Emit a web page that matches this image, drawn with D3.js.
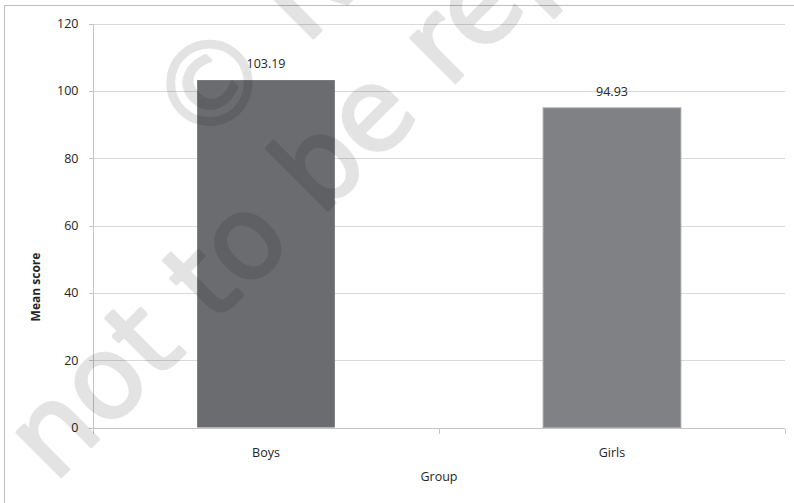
<!doctype html>
<html>
<head>
<meta charset="utf-8">
<script src="https://cdnjs.cloudflare.com/ajax/libs/d3/7.8.5/d3.min.js"></script>
<style>
body { margin: 0; background: #fff; }
text { font-family: "Open Sans", "DejaVu Sans", sans-serif; fill: #262626; }
.grid line { stroke: #d9d9d9; stroke-width: 1px; }
.axis path, .axis line { stroke: #c4c4c4; shape-rendering: crispEdges; }
.axis text { font-size: 12.5px; fill: #262626; }
</style>
</head>
<body>
<svg id="chart" width="794" height="503"></svg>
<script>
var groups = ["Boys", "Girls"];
var meanScores = [103.19, 94.93];
var barColors = ["#6b6c70", "#808185"];
var yTicks = [0, 20, 40, 60, 80, 100, 120];
var watermarkLines = ["\u00a9 NCERT", "not to be republished"];

var svg = d3.select("#chart");
var margin = {left: 93, right: 9, top: 23.5, bottom: 75.5};
var W = 794, H = 503;

// outer frame
svg.append("rect")
  .attr("x", 4.5).attr("y", 5.5)
  .attr("width", 820).attr("height", 620)
  .attr("fill", "none")
  .attr("stroke", "#bdbdbd");

var x = d3.scaleBand()
  .domain(groups)
  .range([margin.left, W - margin.right])
  .padding(0);

var y = d3.scaleLinear()
  .domain([0, 120])
  .range([H - margin.bottom, margin.top]);

// gridlines
svg.append("g")
  .attr("class", "grid")
  .selectAll("line")
  .data(yTicks.slice(1))
  .enter()
  .append("line")
  .attr("x1", margin.left)
  .attr("x2", W - margin.right)
  .attr("y1", d => Math.round(y(d)) + 0.5)
  .attr("y2", d => Math.round(y(d)) + 0.5);

// y axis
var yAxis = svg.append("g")
  .attr("class", "axis")
  .attr("transform", "translate(" + (margin.left + 0.5) + ",0)")
  .call(d3.axisLeft(y).tickValues(yTicks).tickSize(5).tickPadding(10));
yAxis.select(".domain").attr("d", "M0," + y(0) + "V" + y(120));

// bars
var barW = x.bandwidth() * 0.398;
svg.append("g")
  .selectAll("rect")
  .data(groups)
  .enter()
  .append("rect")
  .attr("x", d => x(d) + (x.bandwidth() - barW) / 2)
  .attr("width", barW)
  .attr("y", (d, i) => y(meanScores[i]))
  .attr("height", (d, i) => y(0) - y(meanScores[i]))
  .attr("fill", (d, i) => barColors[i])
  .attr("stroke", (d, i) => i === 1 ? "#a3a4a7" : "none")
  .attr("stroke-width", 1);

// x axis
var xAxisG = svg.append("g")
  .attr("class", "axis")
  .attr("transform", "translate(0," + (Math.round(y(0)) + 0.5) + ")");
xAxisG.append("line")
  .attr("x1", margin.left).attr("x2", W - margin.right)
  .attr("y1", 0).attr("y2", 0);
var xEdges = groups.map(g => x(g)).concat([W - margin.right]);
xAxisG.selectAll(".tk")
  .data(xEdges)
  .enter()
  .append("line")
  .attr("class", "tk")
  .attr("x1", d => Math.round(d) + 0.5).attr("x2", d => Math.round(d) + 0.5)
  .attr("y1", 0).attr("y2", 5);
xAxisG.selectAll("text")
  .data(groups)
  .enter()
  .append("text")
  .attr("x", d => x(d) + x.bandwidth() / 2)
  .attr("y", 28)
  .attr("text-anchor", "middle")
  .text(d => d);

// value labels
svg.append("g")
  .selectAll("text")
  .data(groups)
  .enter()
  .append("text")
  .attr("x", d => x(d) + x.bandwidth() / 2)
  .attr("y", (d, i) => y(meanScores[i]) - 12)
  .attr("text-anchor", "middle")
  .style("font-size", "12.5px")
  .text((d, i) => meanScores[i].toFixed(2));

// axis titles
svg.append("text")
  .attr("x", (margin.left + W - margin.right) / 2)
  .attr("y", 481)
  .attr("text-anchor", "middle")
  .style("font-size", "12.5px")
  .text("Group");

svg.append("text")
  .attr("transform", "translate(40,287) rotate(-90)")
  .attr("text-anchor", "middle")
  .style("font-size", "12px")
  .style("font-weight", "bold")
  .text("Mean score");

// watermark
var wm = svg.append("g")
  .attr("transform", "translate(54,484) rotate(-45)")
  .style("opacity", 0.105)
  .style("pointer-events", "none");
wm.selectAll("text")
  .data(watermarkLines)
  .enter()
  .append("text")
  .attr("x", (d, i) => i === 0 ? 336 : 0)
  .attr("y", (d, i) => i === 0 ? -132 : 0)
  .style("font-family", "'DejaVu Sans', sans-serif")
  .style("font-size", "115px")
  .style("fill", "#000")
  .style("stroke", "#000")
  .style("stroke-width", 3)
  .style("stroke-linejoin", "round")
  .text(d => d);
</script>
</body>
</html>
